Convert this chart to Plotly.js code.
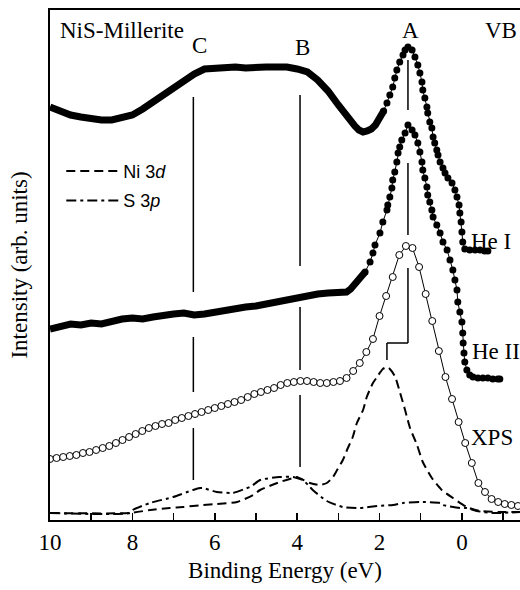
<!DOCTYPE html>
<html>
<head>
<meta charset="utf-8">
<script src="https://cdn.plot.ly/plotly-3.0.1.min.js"></script>
<style>
  html, body { margin: 0; padding: 0; background: #fff; }
  #myDiv { width: 520px; height: 590px; }
</style>
</head>
<body>
<div id="myDiv"></div>
<script>
// binding energy (eV) and intensity (arb. units)

// He I spectrum (top)
let heI_E = [10.0, 9.75, 9.5, 9.25, 9.0, 8.75, 8.5, 8.25, 8.0, 7.75, 7.5, 7.25, 7.0, 6.75, 6.5, 6.25,
  6.0, 5.75, 5.5, 5.25, 5.0, 4.75, 4.5, 4.25, 4.0, 3.75, 3.5, 3.25, 3.0, 2.75, 2.6, 2.5, 2.4, 2.3,
  2.2, 2.1, 2.0, 1.9, 1.82, 1.75, 1.68, 1.63, 1.58, 1.51, 1.43, 1.38, 1.31, 1.21, 1.14, 1.07, 1.02,
  0.97, 0.95, 0.90, 0.85, 0.83, 0.78, 0.73, 0.70, 0.66, 0.61, 0.58, 0.53, 0.46, 0.41, 0.34, 0.24,
  0.17, 0.12, 0.07, 0.05, 0.02, 0.0, -0.02, -0.07, -0.19, -0.32, -0.44, -0.55, -0.63];
let heI_I = [413, 409, 405, 403, 401, 400, 400, 402, 405, 411, 418, 426, 434, 440, 446, 451,
  452, 452, 453, 452, 453, 453, 453, 453, 451, 448, 440, 429, 415, 401, 394, 390, 388, 389,
  391, 395, 401, 409, 417, 425, 433, 442, 450, 458, 465, 470, 473, 470, 463, 455, 447,
  438, 430, 422, 413, 407, 398, 392, 383, 377, 370, 365, 358, 352, 347, 342, 337,
  330, 323, 315, 307, 298, 288, 278, 271, 270, 270, 270, 269, 269];

// He II spectrum (middle)
let heII_E = [10.0, 9.75, 9.5, 9.25, 9.0, 8.75, 8.5, 8.25, 8.0, 7.75, 7.5, 7.25, 7.0, 6.75, 6.5, 6.25,
  6.0, 5.75, 5.5, 5.25, 5.0, 4.75, 4.5, 4.25, 4.0, 3.75, 3.5, 3.25, 3.0, 2.8, 2.7, 2.6, 2.5, 2.43,
  2.35, 2.23, 2.16, 2.11, 1.99, 1.92, 1.82, 1.80, 1.75, 1.70, 1.68, 1.63, 1.58, 1.55, 1.51, 1.46,
  1.38, 1.31, 1.21, 1.14, 1.07, 1.02, 0.97, 0.95, 0.90, 0.85, 0.83, 0.78, 0.73, 0.70, 0.61, 0.53,
  0.46, 0.36, 0.29, 0.22, 0.17, 0.12, 0.10, 0.05, 0.0, -0.02, -0.03, -0.05, -0.07, -0.12, -0.19,
  -0.27, -0.39, -0.51, -0.63, -0.75, -0.87, -0.92];
let heII_I = [191, 194, 196, 195, 197, 196, 199, 201, 202, 201, 203, 205, 206, 207, 205, 206,
  208, 210, 212, 213, 214, 216, 219, 221, 222, 224, 226, 227, 227, 228, 231, 236, 242, 245,
  248, 258, 267, 275, 287, 298, 310, 315, 323, 332, 340, 348, 358, 367, 373, 380,
  387, 395, 390, 385, 377, 368, 358, 350, 342, 333, 325, 318, 310, 303, 295, 287,
  278, 270, 260, 250, 240, 230, 218, 208, 198, 187, 177, 167, 158, 150, 145,
  143, 142, 142, 142, 141, 141, 141];

// XPS spectrum (open circles)
let xps_E = [10.0, 9.84, 9.68, 9.52, 9.36, 9.2, 9.04, 8.88, 8.72, 8.56, 8.4, 8.24, 8.08, 7.92, 7.76,
  7.6, 7.44, 7.28, 7.12, 6.96, 6.8, 6.64, 6.48, 6.32, 6.16, 6.0, 5.84, 5.68, 5.52, 5.36, 5.2, 5.04,
  4.88, 4.72, 4.56, 4.4, 4.24, 4.08, 3.92, 3.76, 3.6, 3.44, 3.28, 3.12, 2.96, 2.8, 2.64, 2.48, 2.32,
  2.16, 2.0, 1.84, 1.68, 1.52, 1.36, 1.2, 1.04, 0.88, 0.72, 0.56, 0.4, 0.24, 0.08, -0.08, -0.24,
  -0.4, -0.56, -0.72, -0.88, -1.04, -1.2, -1.36];
let xps_I = [61, 62, 63, 64, 65, 67, 68, 70, 72, 74, 77, 80, 83, 86, 89,
  92, 94, 96, 97, 100, 102, 104, 106, 108, 110, 112, 114, 116, 118, 120, 123, 126,
  128, 130, 132, 135, 137, 138, 139, 139, 138, 137, 137, 138, 139, 142, 149, 157, 168,
  181, 204, 224, 243, 265, 274, 272, 253, 226, 199, 169, 143, 121, 98, 77, 57,
  37, 28, 21, 18, 16, 15, 14];

// Ni 3d partial density of states (dashed)
let ni3d_E = [10.0, 8.06, 7.57, 7.09, 6.77, 6.29, 5.95, 5.46, 5.07, 4.9, 4.42, 4.1, 4.01, 3.69, 3.45,
  3.28, 3.13, 3.03, 2.89, 2.79, 2.65, 2.55, 2.4, 2.31, 2.16, 2.06, 1.92, 1.8, 1.63, 1.5, 1.38,
  1.26, 1.09, 0.95, 0.73, 0.49, 0.22, -0.12, -0.44, -1.0, -1.41];
let ni3d_I = [7, 7, 10, 12, 13, 15, 16, 18, 25, 30, 38, 42, 43, 37, 35,
  37, 43, 50, 60, 70, 83, 97, 110, 123, 137, 143, 151, 153, 144, 127, 110,
  92, 75, 58, 42, 30, 22, 13, 9, 8, 8];

// S 3p partial density of states (dash-dot)
let s3p_E = [10.0, 8.06, 7.99, 7.57, 7.01, 6.53, 6.36, 6.29, 5.95, 5.63, 5.56, 5.15, 5.07, 4.9, 4.42,
  4.1, 4.01, 3.86, 3.69, 3.62, 3.28, 2.89, 2.48, 2.06, 1.67, 1.43, 1.02, 0.53, 0.46, 0.05, -0.12,
  -0.36, -0.75, -1.41];
let s3p_I = [7, 7, 10, 17, 23, 30, 32, 32, 28, 27, 27, 33, 35, 40, 43,
  43, 42, 40, 33, 30, 19, 13, 12, 14, 15, 17, 18, 17, 15, 12, 12,
  9, 7, 8];

// feature labels and their energies
let featureNames = ["C", "B", "A"];
let featureE = [6.52, 3.93, 1.31];

let serif = "Liberation Serif, Times New Roman, serif";
let sans = "Liberation Sans, Arial, sans-serif";

// keep the points of a spectrum that pass the test
function part(E, I, test) {
  let x = [];
  let y = [];
  E.forEach((e, i) => {
    if (test(e)) {
      x.push(e);
      y.push(I[i]);
    }
  });
  return { x: x, y: y };
}

// where the points sit so close they merge into a band, draw a fat line;
// below "resolvedFrom" the separate dots show
function dottedSpectrum(E, I, resolvedFrom) {
  let dense = part(E, I, e => e >= resolvedFrom);
  let dots = part(E, I, e => e <= resolvedFrom);
  return [
    {
      x: dense.x, y: dense.y, mode: "lines", showlegend: false, hoverinfo: "skip",
      line: { color: "black", width: 7 }
    },
    {
      x: dots.x, y: dots.y, mode: "lines+markers", showlegend: false,
      line: { color: "black", width: 1 },
      marker: { color: "black", size: 7 }
    }
  ];
}

function segment(x0, y0, x1, y1) {
  return {
    type: "line", xref: "x", yref: "y", x0: x0, y0: y0, x1: x1, y1: y1,
    layer: "below", line: { color: "black", width: 1.5 }
  };
}

function label(text, x, y, anchor) {
  return {
    text: text, x: x, y: y, xref: "x", yref: "y", showarrow: false,
    xanchor: anchor || "center", yanchor: "middle",
    font: { family: serif, size: 23, color: "black" }
  };
}

let data = [].concat(
  dottedSpectrum(heI_E, heI_I, 1.9),
  dottedSpectrum(heII_E, heII_I, 2.35),
  [
    {
      x: xps_E, y: xps_I, mode: "lines+markers", showlegend: false,
      line: { color: "black", width: 1 },
      marker: { color: "white", size: 7, line: { color: "black", width: 1 } }
    },
    {
      x: ni3d_E, y: ni3d_I, mode: "lines", name: "Ni 3<i>d</i>", legendgroup: "a",
      line: { color: "black", width: 2, dash: "9px,5px", shape: "spline", smoothing: 0.6 }
    },
    {
      x: s3p_E, y: s3p_I, mode: "lines", name: "S 3<i>p</i>", legendgroup: "b",
      line: { color: "black", width: 2, dash: "10px,4px,3px,4px", shape: "spline", smoothing: 0.6 }
    }
  ]
);

// marker lines through the features, broken where the spectra pass
let shapes = [
  segment(featureE[0], 423, featureE[0], 228),
  segment(featureE[0], 183, featureE[0], 128),
  segment(featureE[0], 92, featureE[0], 40),
  segment(featureE[1], 425, featureE[1], 254),
  segment(featureE[1], 213, featureE[1], 150),
  segment(featureE[1], 125, featureE[1], 53),
  segment(featureE[2], 460, featureE[2], 410),
  segment(featureE[2], 357, featureE[2], 285),
  segment(featureE[2], 252, featureE[2], 177),
  segment(featureE[2], 177, 1.82, 177),
  segment(1.82, 177, 1.82, 160)
];

let annotations = [
  label(featureNames[0], 6.38, 475),
  label(featureNames[1], 3.86, 473),
  label(featureNames[2], 1.26, 490),
  label("VB", -0.95, 490),
  label("NiS-Millerite", 9.8, 490, "left"),
  label("He I", -0.17, 279, "left"),
  label("He II", -0.2, 169, "left"),
  label("XPS", -0.17, 83, "left")
];

let layout = {
  width: 520,
  height: 590,
  margin: { l: 50, r: 0, t: 10, b: 70 },
  paper_bgcolor: "white",
  plot_bgcolor: "white",
  font: { family: serif, size: 23, color: "black" },
  showlegend: true,
  legend: {
    x: 0.024, y: 0.72, xanchor: "left", yanchor: "top",
    bgcolor: "rgba(0,0,0,0)", tracegroupgap: 3, itemwidth: 52,
    font: { family: sans, size: 18, color: "black" }
  },
  xaxis: {
    range: [10, -1.41],
    dtick: 2, tick0: 0,
    ticks: "inside", ticklen: 7, tickwidth: 1.5, tickcolor: "black",
    minor: { dtick: 1, ticks: "inside", ticklen: 7, tickwidth: 1.5, tickcolor: "black" },
    showline: true, mirror: true, linewidth: 2, linecolor: "black",
    showgrid: false, zeroline: false,
    tickfont: { family: serif, size: 23, color: "black" },
    title: { text: "Binding Energy (eV)", standoff: 8, font: { family: serif, size: 23, color: "black" } }
  },
  yaxis: {
    range: [0, 510],
    showticklabels: false, ticks: "",
    showline: true, linewidth: 2, linecolor: "black",
    showgrid: false, zeroline: false,
    title: { text: "Intensity (arb. units)", standoff: 14, font: { family: serif, size: 23, color: "black" } }
  },
  shapes: shapes,
  annotations: annotations
};

Plotly.newPlot("myDiv", data, layout, { staticPlot: true });
</script>
</body>
</html>
